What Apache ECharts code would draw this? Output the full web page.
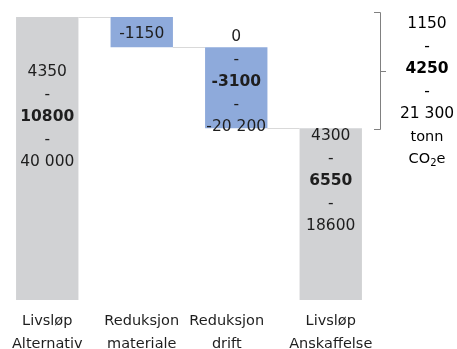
<!DOCTYPE html>
<html>
<head>
<meta charset="utf-8">
<script src="https://cdn.jsdelivr.net/npm/echarts@6/dist/echarts.min.js"></script>
<style>
  html, body { margin: 0; padding: 0; background: #ffffff; }
  #chart { width: 457px; height: 349px; }
</style>
</head>
<body>
<div id="chart"></div>
<script>
// Waterfall: lifecycle emissions of the alternative, reductions, resulting procurement
const categories = ['Livsløp\nAlternativ', 'Reduksjon\nmateriale', 'Reduksjon\ndrift', 'Livsløp\nAnskaffelse'];
// central estimate per step (totals positive, reductions negative)
const centralValues = [10800, -1150, -3100, 6550];
const stepKinds = ['total', 'delta', 'delta', 'total'];
// low / high estimates shown around the central value
const lowLabels = ['4350', null, '0', '4300'];
const highLabels = ['40 000', null, '-20 200', '18600'];
// total reduction range shown beside the brace
const rangeLabels = ['1150', '4250', '21 300'];
const unitLines = ['tonn', 'CO{sub|2}{u|e}'];

const FONT = 'DejaVu Sans';
const TEXT = '#1e1e1e';
const GREY = '#d1d2d4';
const BLUE = '#8eaadb';
const BAR_RATIO = 0.66;

// stacked layout: invisible base + visible segment
const bases = [];
const heights = [];
const levels = []; // running total after each step
let running = 0;
centralValues.forEach((v, i) => {
  if (stepKinds[i] === 'total') {
    bases.push(0);
    heights.push(v);
    running = v;
  } else {
    const next = running + v;
    bases.push(Math.min(running, next));
    heights.push(Math.abs(v));
    running = next;
  }
  levels.push(running);
});
const connectors = levels.slice(0, -1).map((lv, i) => [i, lv]);

const labelOffsets = [[0, -41.5], [0, 2], [0, -5.5], [0, -33]];

function barLabel(i) {
  const mid = String(centralValues[i]);
  if (lowLabels[i] == null) return '{n|' + mid + '}';
  return ['{n|' + lowLabels[i] + '}', '{n|-}', '{b|' + mid + '}', '{n|-}', '{n|' + highLabels[i] + '}'].join('\n');
}

const rich = {
  n: { fontFamily: FONT, fontSize: 15.5, lineHeight: 22.5, color: TEXT },
  b: { fontFamily: FONT, fontSize: 15.5, lineHeight: 22.5, color: TEXT, fontWeight: 'bold' }
};

const chart = echarts.init(document.getElementById('chart'), null, { renderer: 'canvas' });

chart.setOption({
  animation: false,
  backgroundColor: '#ffffff',
  grid: { left: 0, right: 79, top: 17, bottom: 49, containLabel: false, outerBoundsMode: 'none' },
  xAxis: {
    type: 'category',
    data: categories,
    axisLine: { show: false },
    axisTick: { show: false },
    axisLabel: {
      interval: 0,
      margin: 10,
      formatter: (value, idx) => {
        const st = idx === 2 ? 'd' : 'c';
        return value.split('\n').map(l => '{' + st + '|' + l + '}').join('\n');
      },
      rich: {
        c: { fontFamily: FONT, fontSize: 14.5, lineHeight: 23, color: TEXT },
        d: { fontFamily: FONT, fontSize: 14.5, lineHeight: 23, color: TEXT, padding: [0, 19, 0, 0] }
      }
    }
  },
  yAxis: {
    type: 'value',
    min: 0,
    max: v => v.max,
    show: false,
    splitLine: { show: false }
  },
  series: [
    {
      type: 'custom',
      name: 'connector',
      z: 1,
      silent: true,
      data: connectors,
      renderItem: (params, api) => {
        const p = api.coord([api.value(0), api.value(1)]);
        const bw = api.size([1, 0])[0];
        const half = bw * BAR_RATIO / 2;
        const y = Math.round(p[1]) + 0.5;
        return {
          type: 'line',
          shape: { x1: p[0] + half, y1: y, x2: p[0] + bw - half, y2: y },
          style: { stroke: '#d9d9d9', lineWidth: 1 }
        };
      }
    },
    {
      type: 'bar',
      name: 'base',
      stack: 'wf',
      silent: true,
      barWidth: (BAR_RATIO * 100) + '%',
      itemStyle: { color: 'rgba(0,0,0,0)' },
      data: bases
    },
    {
      type: 'bar',
      name: 'step',
      stack: 'wf',
      z: 3,
      barWidth: (BAR_RATIO * 100) + '%',
      data: heights.map((h, i) => ({
        value: h,
        itemStyle: { color: stepKinds[i] === 'total' ? GREY : BLUE },
        label: {
          show: true,
          position: 'inside',
          offset: labelOffsets[i],
          formatter: () => barLabel(i),
          rich: rich
        }
      }))
    }
  ],
  graphic: [
    {
      type: 'polyline',
      z: 10,
      shape: { points: [[374, 12.5], [380.5, 12.5], [380.5, 129.5], [374, 129.5]] },
      style: { stroke: '#808080', lineWidth: 1, fill: null }
    },
    {
      type: 'line',
      z: 10,
      shape: { x1: 380.5, y1: 71.5, x2: 386, y2: 71.5 },
      style: { stroke: '#808080', lineWidth: 1 }
    },
    {
      type: 'text',
      z: 10,
      x: 427,
      y: 13,
      style: {
        text: [
          '{n|' + rangeLabels[0] + '}', '{n|-}', '{b|' + rangeLabels[1] + '}', '{n|-}', '{n|' + rangeLabels[2] + '}',
          '{u|' + unitLines[0] + '}', '{u|' + unitLines[1].replace('{sub|', '}{sub|')
        ].join('\n'),
        align: 'center',
        verticalAlign: 'top',
        rich: {
          n: rich.n,
          b: rich.b,
          u: { fontFamily: FONT, fontSize: 14.5, lineHeight: 22.5, color: TEXT },
          sub: { fontFamily: FONT, fontSize: 10, color: TEXT, padding: [8, 0, 0, 0] }
        }
      }
    }
  ]
});
</script>
</body>
</html>
